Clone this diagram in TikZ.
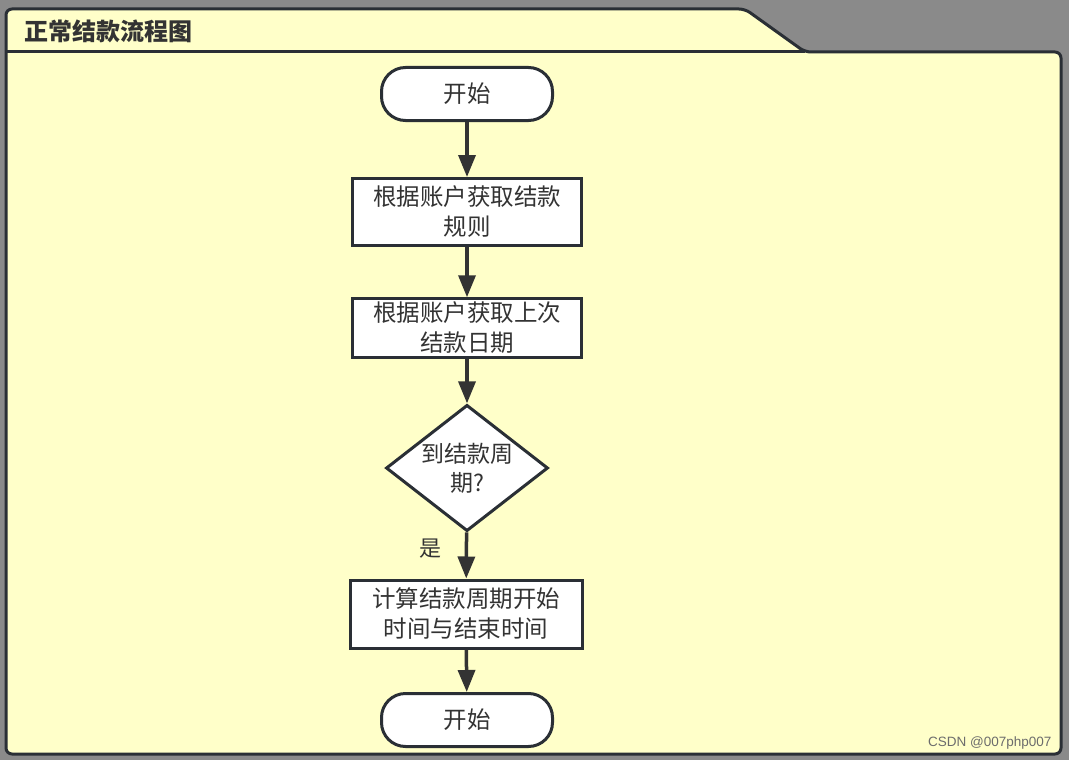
\documentclass[tikz,border=0pt]{standalone}
\usepackage{fontspec}
\setmainfont{Noto Sans CJK SC}
\newfontfamily\wmfont{Liberation Sans}
\usepackage{tikz}
\usetikzlibrary{shapes.geometric,arrows.meta,positioning}
\definecolor{pagegray}{HTML}{8A8A8A}
\definecolor{frameyellow}{HTML}{FFFFC9}
\definecolor{edgedark}{HTML}{2A2F35}
\definecolor{textdark}{HTML}{333333}

\tikzset{
  frame/.style={draw=edgedark, line width=3pt, fill=frameyellow, rounded corners=6pt},
  startstop/.style={draw=edgedark, line width=3pt, fill=white, rounded corners=24pt,
    minimum width=171pt, minimum height=53pt, text=textdark, font=\fontsize{23.5}{30}\selectfont},
  process/.style={draw=edgedark, line width=3pt, fill=white,
    minimum width=229pt, minimum height=60pt, text width=215pt, align=center,
    text=textdark, font=\fontsize{23.5}{30}\selectfont},
  decision/.style={draw=edgedark, line width=3pt, fill=white, diamond,
    minimum width=162pt, minimum height=126pt, text width=76pt, align=center, inner sep=0pt,
    text=textdark, font=\fontsize{23}{29}\selectfont},
  flow/.style={draw=textdark, line width=3.5pt, -{Triangle[width=17pt,length=22pt]}}
}

\begin{document}
\begin{tikzpicture}[x=1pt, y=-1pt]
  \useasboundingbox (0,0) rectangle (1069,760);
  % Background
  \fill[pagegray] (0,0) rectangle (1069,760);

  % Folder frame
  \draw[frame] (6,754) -- (6,9) -- (745,9) -- (805,52) -- (1061,52) -- (1061,754) -- cycle;
  \draw[edgedark, line width=3pt] (6,52) -- (805,52);
  \node[anchor=west, text=textdark, font=\bfseries\fontsize{24}{28}\selectfont] (title) at (21,31) {正常结款流程图};

  % Flow nodes
  \node[startstop] (start) at (467,94) {开始};
  \node[process, minimum height=67pt] (rule) at (467,212) {根据账户获取结款\\规则};
  \node[process, minimum height=58pt] (lastdate) at (467,328) {根据账户获取上次\\结款日期};
  \node[decision] (check) at (467,468) {\makebox[\linewidth][c]{到结款周}\\\makebox[\linewidth][c]{期?}};
  \node[process, minimum width=232pt, minimum height=68pt] (period) at (466,614) {计算结款周期开始\\时间与结束时间};
  \node[startstop] (stop) at (467,720) {开始};

  % Connections
  \draw[flow] (start) -- (rule);
  \draw[flow] (rule) -- (lastdate);
  \draw[flow] (lastdate) -- (check);
  \draw[flow] (check) -- node[pos=0.35, left=20pt, text=textdark, font=\fontsize{22}{24}\selectfont] (yes) {是} (period);
  \draw[flow] (period) -- (stop);

  % Watermark
  \node[anchor=east, text=gray!85!black, font=\wmfont\fontsize{13.5}{15}\selectfont] (mark) at (1055,743) {CSDN @007php007};
\end{tikzpicture}
\end{document}
